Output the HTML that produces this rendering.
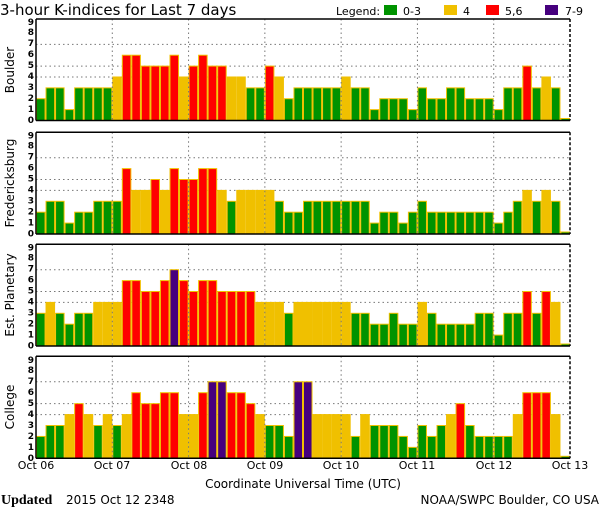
<!DOCTYPE html>
<html><head><meta charset="utf-8"><style>
html,body{margin:0;padding:0;background:#fff;}
svg{display:block;font-family:"DejaVu Sans","Liberation Sans",sans-serif;}
</style></head><body>
<svg id="s" width="600" height="510" viewBox="0 0 600 510" xmlns="http://www.w3.org/2000/svg">
<rect width="600" height="510" fill="#fff"/>
<g id="bars"></g>
<text x="0" y="15" font-size="15" fill="#000">3-hour K-indices for Last 7 days</text>
<text x="336" y="15" font-size="11" fill="#000">Legend:</text>
<rect x="384" y="5" width="13" height="10" fill="#009300"/>
<text x="403" y="15" font-size="11">0-3</text>
<rect x="444" y="5" width="13" height="10" fill="#f0c000"/>
<text x="463" y="15" font-size="11">4</text>
<rect x="486" y="5" width="13" height="10" fill="#ff0000"/>
<text x="505" y="15" font-size="11">5,6</text>
<rect x="545" y="5" width="13" height="10" fill="#46007e"/>
<text x="565" y="15" font-size="11">7-9</text>
<text transform="translate(14,70) rotate(-90)" text-anchor="middle" font-size="12">Boulder</text>
<text transform="translate(14,183) rotate(-90)" text-anchor="middle" font-size="12">Fredericksburg</text>
<text transform="translate(14,295) rotate(-90)" text-anchor="middle" font-size="12">Est. Planetary</text>
<text transform="translate(14,407) rotate(-90)" text-anchor="middle" font-size="12">College</text>
<g font-size="11" text-anchor="middle">
<text x="36" y="469">Oct 06</text><text x="112" y="469">Oct 07</text><text x="189" y="469">Oct 08</text><text x="265" y="469">Oct 09</text><text x="341" y="469">Oct 10</text><text x="417" y="469">Oct 11</text><text x="494" y="469">Oct 12</text><text x="570" y="469">Oct 13</text>
</g>
<text x="303" y="488" font-size="12" text-anchor="middle">Coordinate Universal Time (UTC)</text>
<text x="1" y="504" font-size="14" font-family="Liberation Serif,serif" font-weight="bold">Updated</text>
<text x="66" y="504" font-size="12">2015 Oct 12 2348</text>
<text x="599" y="504" font-size="12" text-anchor="end">NOAA/SWPC Boulder, CO USA</text>
</svg>
<script>
var panels=[
 {t:19,b:120.5,d:[2,3,3,1,3,3,3,3, 4,6,6,5,5,5,6,4, 5,6,5,5,4,4,3,3, 5,4,2,3,3,3,3,3, 4,3,3,1,2,2,2,1, 3,2,2,3,3,2,2,2, 1,3,3,5,3,4,3,0]},
 {t:132.3,b:234,d:[2,3,3,1,2,2,3,3, 3,6,4,4,5,4,6,5, 5,6,6,4,3,4,4,4, 4,3,2,2,3,3,3,3, 3,3,3,1,2,2,1,2, 3,2,2,2,2,2,2,2, 1,2,3,4,3,4,3,0]},
 {t:244.3,b:346,d:[3,4,3,2,3,3,4,4, 4,6,6,5,5,6,7,6, 5,6,6,5,5,5,5,4, 4,4,3,4,4,4,4,4, 4,3,3,2,2,3,2,2, 4,3,2,2,2,2,3,3, 1,3,3,5,3,5,4,0]},
 {t:356.3,b:458.3,d:[2,3,3,4,5,4,3,4, 3,4,6,5,5,6,6,4, 4,6,7,7,6,6,5,4, 3,3,2,7,7,4,4,4, 4,2,4,3,3,3,2,1, 3,2,3,4,5,3,2,2, 2,2,4,6,6,6,4,0]}
];
var NS="http://www.w3.org/2000/svg",g=document.getElementById('bars');
function el(n,a){var e=document.createElementNS(NS,n);for(var k in a)e.setAttribute(k,a[k]);g.appendChild(e);return e;}
var x0=36,x1=570,bw=(x1-x0)/56;
panels.forEach(function(p){
 var u=(p.b-p.t)/9.33;
 [4,5,7].forEach(function(k){var y=p.b-k*u;el('line',{x1:x0,x2:x1,y1:y,y2:y,stroke:'#777','stroke-dasharray':'1.5,3','stroke-width':1});});
 p.d.forEach(function(v,i){
  var c=v<=3?'#009300':v==4?'#f0c000':v<=6?'#ff0000':'#46007e';
  var h=v==0?2:v*u,x=x0+i*bw;
  el('rect',{x:x+0.5,y:p.b-h,width:bw-1,height:h,fill:c,stroke:'#f0c000','stroke-width':1});
 });
 for(var d=1;d<7;d++){var x=x0+d*bw*8;el('line',{x1:x,x2:x,y1:p.t,y2:p.b,stroke:'#777','stroke-dasharray':'1.5,3','stroke-width':1});}
 el('line',{x1:x0,x2:x1,y1:p.t,y2:p.t,stroke:'#000','stroke-width':1.5});
 el('line',{x1:x0,x2:x1,y1:p.b,y2:p.b,stroke:'#000','stroke-width':1.5});
 el('line',{x1:x0,x2:x0,y1:p.t,y2:p.b,stroke:'#000','stroke-width':1.5});
 el('line',{x1:x1,x2:x1,y1:p.t,y2:p.b,stroke:'#000','stroke-width':1.5,'stroke-dasharray':'3,2'});
});
</script>
<div style="position:absolute;left:0;top:0;width:600px;height:510px;pointer-events:none">
<svg width="600" height="510" style="position:absolute;left:0;top:0" font-family="DejaVu Sans,sans-serif" font-size="9" font-weight="bold" text-anchor="end">
<g transform="translate(0,0)">
<text x="34" y="123">0</text><text x="34" y="112">1</text><text x="34" y="101">2</text><text x="34" y="90">3</text><text x="34" y="79">4</text><text x="34" y="68">5</text><text x="34" y="57">6</text><text x="34" y="46">7</text><text x="34" y="35">8</text><text x="34" y="25">9</text>
</g>
<g transform="translate(0,113.5)">
<text x="34" y="123">0</text><text x="34" y="112">1</text><text x="34" y="101">2</text><text x="34" y="90">3</text><text x="34" y="79">4</text><text x="34" y="68">5</text><text x="34" y="57">6</text><text x="34" y="46">7</text><text x="34" y="35">8</text><text x="34" y="25">9</text>
</g>
<g transform="translate(0,225.5)">
<text x="34" y="123">0</text><text x="34" y="112">1</text><text x="34" y="101">2</text><text x="34" y="90">3</text><text x="34" y="79">4</text><text x="34" y="68">5</text><text x="34" y="57">6</text><text x="34" y="46">7</text><text x="34" y="35">8</text><text x="34" y="25">9</text>
</g>
<g transform="translate(0,337.8)">
<text x="34" y="123">0</text><text x="34" y="112">1</text><text x="34" y="101">2</text><text x="34" y="90">3</text><text x="34" y="79">4</text><text x="34" y="68">5</text><text x="34" y="57">6</text><text x="34" y="46">7</text><text x="34" y="35">8</text><text x="34" y="25">9</text>
</g>
</svg></div>
</body></html>
